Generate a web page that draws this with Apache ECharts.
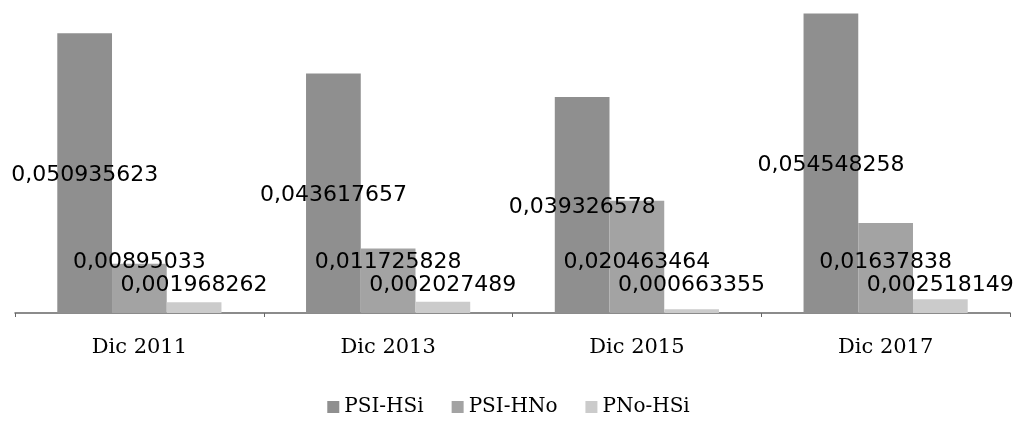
<!DOCTYPE html>
<html><head><meta charset="utf-8">
<script src="https://cdn.jsdelivr.net/npm/echarts@6/dist/echarts.min.js"></script>
<style>html,body{margin:0;padding:0;background:#fff}#c{width:1017px;height:421px}</style>
</head><body><div id="c"></div>
<script>
const categories = ["Dic 2011", "Dic 2013", "Dic 2015", "Dic 2017"];
const seriesNames = ["PSI-HSi", "PSI-HNo", "PNo-HSi"];
const psiHSi = [0.050935623, 0.043617657, 0.039326578, 0.054548258];
const psiHNo = [0.00895033, 0.011725828, 0.020463464, 0.01637838];
const pNoHSi = [0.001968262, 0.002027489, 0.000663355, 0.002518149];

const colors = ["#8f8f8f", "#a3a3a3", "#cbcbcb"];
const fmt = p => String(p.value).replace('.', ',');
const labelFont = {fontFamily: "DejaVu Sans", fontSize: 22, color: "#000"};

const chart = echarts.init(document.getElementById('c'));
chart.setOption({
  animation: false,
  color: colors,
  grid: {left: 15, right: 7, top: 11, bottom: 108, containLabel: false},
  legend: {
    bottom: -1, left: 'center', itemWidth: 12, itemHeight: 12, itemGap: 28,
    icon: 'rect',
    textStyle: {fontFamily: "DejaVu Serif", fontSize: 20, color: "#000"},
    data: seriesNames
  },
  xAxis: {
    type: 'category', data: categories,
    axisLine: {lineStyle: {color: "#666", width: 1.5}},
    axisTick: {show: true, length: 4, lineStyle: {color: "#666"}},
    axisLabel: {fontFamily: "DejaVu Serif", fontSize: 21, color: "#000", margin: 24}
  },
  yAxis: {type: 'value', min: 0, max: 0.055, show: false, splitLine: {show: false}},
  series: [
    {name: seriesNames[0], type: 'bar', data: psiHSi, barGap: '0%', barCategoryGap: '34%',
     label: Object.assign({show: true, position: 'inside', offset: [0, 2], formatter: fmt}, labelFont)},
    {name: seriesNames[1], type: 'bar', data: psiHNo, barGap: '0%', barCategoryGap: '34%',
     label: Object.assign({show: true, position: 'insideBottom', distance: 40, formatter: fmt}, labelFont)},
    {name: seriesNames[2], type: 'bar', data: pNoHSi, barGap: '0%', barCategoryGap: '34%',
     label: Object.assign({show: true, position: 'insideBottom', distance: 17, formatter: fmt}, labelFont)}
  ]
});
</script></body></html>
